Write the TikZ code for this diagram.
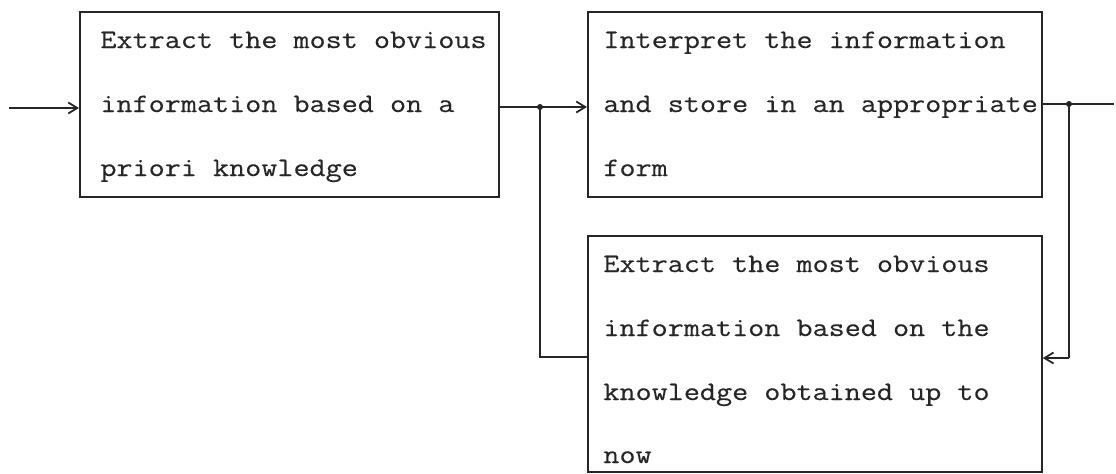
\documentclass[tikz,border=0pt]{standalone}
\usepackage{fontspec}
\usetikzlibrary{arrows.meta,calc}
\newfontfamily\typewriter{Latin Modern Mono}[FakeStretch=1.172,FakeBold=0.3]
\begin{document}
\begin{tikzpicture}[x=0.5pt,y=-0.5pt,
  ink/.style={black!85},
  box/.style={draw,ink,line width=0.9pt,rectangle,anchor=north west,inner sep=0pt},
  txt/.style={anchor=base west,inner sep=0pt,ink,font=\typewriter\fontsize{13.33}{32}\selectfont,align=left},
  wire/.style={ink,line width=0.9pt},
  arr/.style={wire,-{Straight Barb[length=4.5pt,width=5.5pt]}},
  dot/.style={circle,fill,ink,inner sep=0pt,minimum size=3pt}]
\useasboundingbox (0,0) rectangle (1116,473);
\node[box,minimum width=209.5pt,minimum height=92.5pt] (b1) at (79,11) {};
\node[box,minimum width=227pt,minimum height=92.5pt] (b2) at (587,11) {};
\node[box,minimum width=227pt,minimum height=118pt] (b3) at (587,235) {};
\node[txt] (t1a) at (100,48) {Extract the most obvious};
\node[txt] (t1b) at (100,112) {information based on a};
\node[txt] (t1c) at (100,176) {priori knowledge};
\node[txt] (t2a) at (603,48) {Interpret the information};
\node[txt] (t2b) at (603,112) {and store in an appropriate};
\node[txt] (t2c) at (603,176) {form};
\node[txt] (t3a) at (603,272) {Extract the most obvious};
\node[txt] (t3b) at (603,336) {information based on the};
\node[txt] (t3c) at (603,400) {knowledge obtained up to};
\node[txt] (t3d) at (603,463) {now};
\coordinate (in) at (9,108);
\coordinate (j1) at (540,107);
\coordinate (k1) at (540,357);
\coordinate (j2) at (1069,104);
\coordinate (k2) at (1069,358);
\coordinate (out) at (1114,104);
\draw[arr] (in) -- (in -| b1.west);
\draw[wire] (j1 -| b1.east) -- (j1);
\draw[arr] (j1) -- (j1 -| b2.west);
\draw[wire] (j1) -- (k1) -- (k1 -| b3.west);
\draw[wire] (j2 -| b2.east) -- (out);
\draw[wire] (j2) -- (k2);
\draw[arr] (k2) -- (k2 -| b3.east);
\node[dot] (d1) at (j1) {};
\node[dot] (d2) at (j2) {};
\end{tikzpicture}
\end{document}
